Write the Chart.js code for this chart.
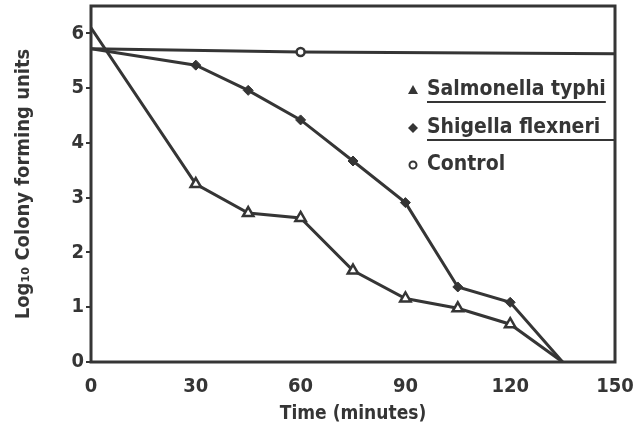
<!DOCTYPE html>
<html>
<head>
<meta charset="utf-8">
<script src="https://cdn.jsdelivr.net/npm/chart.js@4/dist/chart.umd.min.js"></script>
<style>
  html, body { margin: 0; padding: 0; background: #fff; }
  #wrap { width: 636px; height: 439px; }
</style>
</head>
<body>
<div id="wrap"><canvas id="survival"></canvas></div>
<script>
// sampling times (minutes)
var times = [0, 30, 45, 60, 75, 90, 105, 120, 135];
var salmonella = [6.1, 3.25, 2.72, 2.63, 1.67, 1.16, 0.98, 0.69, 0];
var shigella = [5.72, 5.42, 4.96, 4.42, 3.67, 2.91, 1.37, 1.09, 0];
var controlTimes = [0, 60, 150];
var control = [5.72, 5.66, 5.63];
var xTicks = [0, 30, 60, 90, 120, 150];
var yTicks = [0, 1, 2, 3, 4, 5, 6];

var ink = '#353535';
var fontStack = "'DejaVu Sans Condensed', 'Liberation Sans Narrow', 'Liberation Mono', monospace";

function pts(xs, ys) {
    return xs.map(function(x, i){ return {x: x, y: ys[i]}; });
}
// markers only on the inner samples
function inner(n, r) {
    return times.map(function(t, i){ return (i === 0 || i === n - 1) ? 0 : r; });
}

var frame = {
    id: 'frame',
    afterDatasetsDraw: function(chart) {
        var a = chart.chartArea, ctx = chart.ctx;
        ctx.save();
        ctx.strokeStyle = ink;
        ctx.lineWidth = 3;
        ctx.strokeRect(a.left, a.top, a.right - a.left, a.bottom - a.top);

        // legend inside the plot, top right
        var mx = a.right - 202, tx = a.right - 188;
        var rows = [a.top + 84, a.top + 122, a.top + 159];
        ctx.fillStyle = ink;
        ctx.font = "bold 21px " + fontStack;
        ctx.textBaseline = 'middle';
        chart.data.datasets.forEach(function(ds, i) {
            var y = rows[i];
            ctx.fillStyle = ink;
            ctx.beginPath();
            if (i === 0) {
                ctx.moveTo(mx, y - 5); ctx.lineTo(mx + 5, y + 4); ctx.lineTo(mx - 5, y + 4); ctx.closePath(); ctx.fill();
            } else if (i === 1) {
                ctx.moveTo(mx, y - 5); ctx.lineTo(mx + 5, y); ctx.lineTo(mx, y + 5); ctx.lineTo(mx - 5, y); ctx.closePath(); ctx.fill();
            } else {
                ctx.lineWidth = 2; ctx.arc(mx, y, 3.5, 0, Math.PI * 2); ctx.stroke();
            }
            ctx.fillText(ds.label, tx, y);
            if (i < 2) {
                var w = ctx.measureText(ds.label).width;
                var end = i === 1 ? a.right : tx + w;
                ctx.lineWidth = 2;
                ctx.beginPath();
                ctx.moveTo(tx, y + 12); ctx.lineTo(end, y + 12);
                ctx.stroke();
            }
        });
        ctx.restore();
    }
};

new Chart(document.getElementById('survival'), {
    type: 'line',
    data: {
        datasets: [{
            label: 'Salmonella typhi',
            data: pts(times, salmonella),
            borderColor: ink,
            borderWidth: 3,
            pointStyle: 'triangle',
            pointRadius: inner(times.length, 6),
            pointBackgroundColor: '#fff',
            pointBorderColor: ink,
            pointBorderWidth: 2.5
        }, {
            label: 'Shigella flexneri',
            data: pts(times, shigella),
            borderColor: ink,
            borderWidth: 3,
            pointStyle: 'rectRot',
            pointRadius: inner(times.length, 5),
            pointBackgroundColor: ink,
            pointBorderColor: ink,
            pointBorderWidth: 1
        }, {
            label: 'Control',
            data: pts(controlTimes, control),
            borderColor: ink,
            borderWidth: 3,
            pointStyle: 'circle',
            pointRadius: [0, 4, 0],
            pointBackgroundColor: '#fff',
            pointBorderColor: ink,
            pointBorderWidth: 2.5
        }]
    },
    options: {
        responsive: true,
        maintainAspectRatio: false,
        animation: false,
        layout: { padding: { top: 6, right: 21, left: 0, bottom: 0 } },
        plugins: { legend: { display: false }, tooltip: { enabled: false } },
        elements: { line: { tension: 0 } },
        scales: {
            x: {
                type: 'linear',
                min: 0, max: 150,
                afterFit: function(s){ s.height = 77; s.paddingLeft = 0; s.paddingRight = 0; },
                afterBuildTicks: function(s){ s.ticks = xTicks.map(function(v){ return {value: v}; }); },
                grid: { display: false },
                border: { display: false },
                ticks: { color: ink, padding: 5, maxRotation: 0, font: { family: fontStack, size: 20, weight: 'bold' } },
                title: {
                    display: true, text: 'Time (minutes)', color: ink,
                    font: { family: fontStack, size: 19, weight: 'bold' },
                    padding: { top: 0, bottom: 14 }
                }
            },
            y: {
                min: 0, max: 6.5,
                afterFit: function(s){ s.width = 91; s.paddingTop = 0; s.paddingBottom = 0; },
                afterBuildTicks: function(s){ s.ticks = yTicks.map(function(v){ return {value: v}; }); },
                grid: { drawOnChartArea: false, drawTicks: true, tickLength: 5, color: ink, lineWidth: 2 },
                border: { display: false },
                ticks: { color: ink, padding: 2, font: { family: fontStack, size: 20, weight: 'bold' } },
                title: {
                    display: true, text: 'Log₁₀ Colony forming units', color: ink,
                    font: { family: fontStack, size: 20, weight: 'bold' },
                    padding: { top: 12, bottom: 0 }
                }
            }
        }
    },
    plugins: [frame]
});
</script>
</body>
</html>
